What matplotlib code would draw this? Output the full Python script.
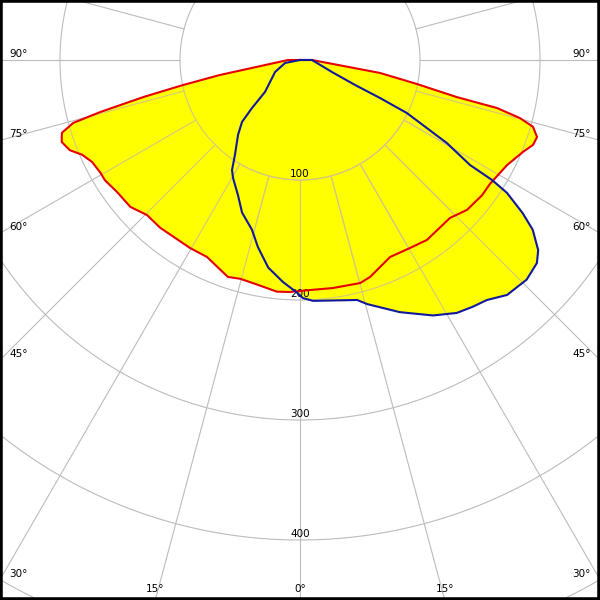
import numpy as np
import matplotlib
matplotlib.use('Agg')
import matplotlib.pyplot as plt
from matplotlib.collections import LineCollection
from matplotlib.patches import Polygon

# C0-C180 plane (red): angle from nadir (deg), intensity
red_left_ang = [0, 2.5, 5.7, 11.9, 15.3, 18.4, 25.3, 30.3, 39.8, 44.6, 49.1, 54.2,
                58.4, 60.5, 63.9, 66.5, 68.6, 71, 73, 74.5, 75.4, 76.7, 77.9, 79.4, 90]
red_left_val = [192.5, 193.5, 194, 190, 189, 190.5, 181.5, 181.5, 182, 181.5, 187, 188,
                191, 191, 193, 198, 206, 210, 207.5, 196, 172, 134, 100, 68, 10]
red_right_ang = [1.7, 8.2, 15.1, 17.9, 24.6, 30.3, 35.2, 43.5, 48.1, 53.4, 56.9, 63.1,
                 67.6, 70, 72, 74, 75.2, 76.3, 76.7, 78.4, 80.8, 90]
red_right_val = [192, 192, 192.5, 190, 180.5, 181.5, 183.5, 181.5, 187, 189, 189, 193.5,
                 201, 206.7, 207.7, 202, 189.6, 169, 134, 99.5, 67.5, 10]

# C90-C270 plane (blue)
blue_left_ang = [0.7, 4.4, 8.7, 12.7, 15.8, 20.8, 24.7, 29.6, 31.7, 34.4, 39.6, 43.1,
                 45, 47.6, 64.4, 78.7]
blue_left_val = [194, 185.5, 175, 159.7, 147, 136, 123.8, 113, 107.8, 96, 81, 70.7,
                 56.6, 39.5, 23, 12.7]
blue_right_ang = [0.7, 3.1, 13.4, 15.4, 21.6, 27.5, 31.8, 35, 37.9, 41.4, 45.9, 49.4,
                  51.4, 53.9, 55.5, 57.3, 58, 58.3, 60.5, 63.6, 64.6, 65.6, 69.4, 90]
blue_right_val = [198.4, 201, 205.6, 211, 226, 240, 248, 251, 253.5, 261, 263, 260,
                  254, 240, 225, 205, 188.7, 166.5, 140.7, 99.5, 73.8, 50.3, 28.5, 10]

ring_ticks = [100, 200, 300, 400, 500]
ring_labels = [100, 200, 300, 400]
side_angles = [90, 75, 60, 45, 30]
bottom_angles = [15, 0]

grid_gray = '#bcbcbc'
grid_tint = '#d4c880'


def to_xy(ang, val):
    a = np.radians(ang)
    val = np.asarray(val, dtype=float)
    return val * np.sin(a), -val * np.cos(a)


def curve(la, lv, ra, rv):
    ang = np.concatenate([-np.array(la, dtype=float)[::-1], ra])
    val = np.concatenate([np.array(lv, dtype=float)[::-1], rv])
    x, y = to_xy(ang, val)
    x = np.concatenate([[0], x, [0]])
    y = np.concatenate([[0], y, [0]])
    return x, y


fig = plt.figure(figsize=(6, 6), dpi=100)
ax = fig.add_axes([0, 0, 1, 1])
ax.set_xlim(-250, 250)
ax.set_ylim(-450, 50)
ax.set_xticks([])
ax.set_yticks([])
for s in ax.spines.values():
    s.set_linewidth(4)
    s.set_color('black')
    s.set_zorder(10)

# grid segments
segs = []
t = np.linspace(0, 2 * np.pi, 400)
for r in ring_ticks:
    segs.append(np.column_stack([r * np.cos(t), r * np.sin(t)]))
for k in range(-12, 13):
    x0, y0 = to_xy(k * 15, [100, 700])
    segs.append(np.column_stack([x0, y0]))

ax.add_collection(LineCollection(segs, colors=grid_gray, linewidths=0.8, zorder=1))

rx, ry = curve(red_left_ang, red_left_val, red_right_ang, red_right_val)
bx, by = curve(blue_left_ang, blue_left_val, blue_right_ang, blue_right_val)

for px, py in [(rx, ry), (bx, by)]:
    poly = Polygon(np.column_stack([px, py]), closed=True, facecolor='#ffff00',
                   edgecolor='none', zorder=2)
    ax.add_patch(poly)
    lc = LineCollection(segs, colors=grid_tint, linewidths=0.8, zorder=3)
    ax.add_collection(lc)
    lc.set_clip_path(poly)

# labels
fs = 7.5
for r in ring_labels:
    ax.text(0, -r + 2.5, str(r), ha='center', va='baseline', fontsize=fs, zorder=4)
for a in side_angles:
    ey = -250 * np.cos(np.radians(a)) / np.sin(np.radians(a))
    ax.text(-242.5, ey + 2.5, f'{a}°', ha='left', va='baseline', fontsize=fs, zorder=4)
    ax.text(242.5, ey + 2.5, f'{a}°', ha='right', va='baseline', fontsize=fs, zorder=4)
for a in bottom_angles:
    ex = 450 * np.tan(np.radians(a))
    ax.text(-ex, -443, f'{a}°', ha='center', va='baseline', fontsize=fs, zorder=4)
    if a != 0:
        ax.text(ex, -443, f'{a}°', ha='center', va='baseline', fontsize=fs, zorder=4)

ax.plot(rx, ry, color='#e60000', lw=1.5, zorder=5, solid_joinstyle='round')
ax.plot(bx, by, color='#10189c', lw=1.5, zorder=6, solid_joinstyle='round')

fig.savefig('out.png', dpi=100)
